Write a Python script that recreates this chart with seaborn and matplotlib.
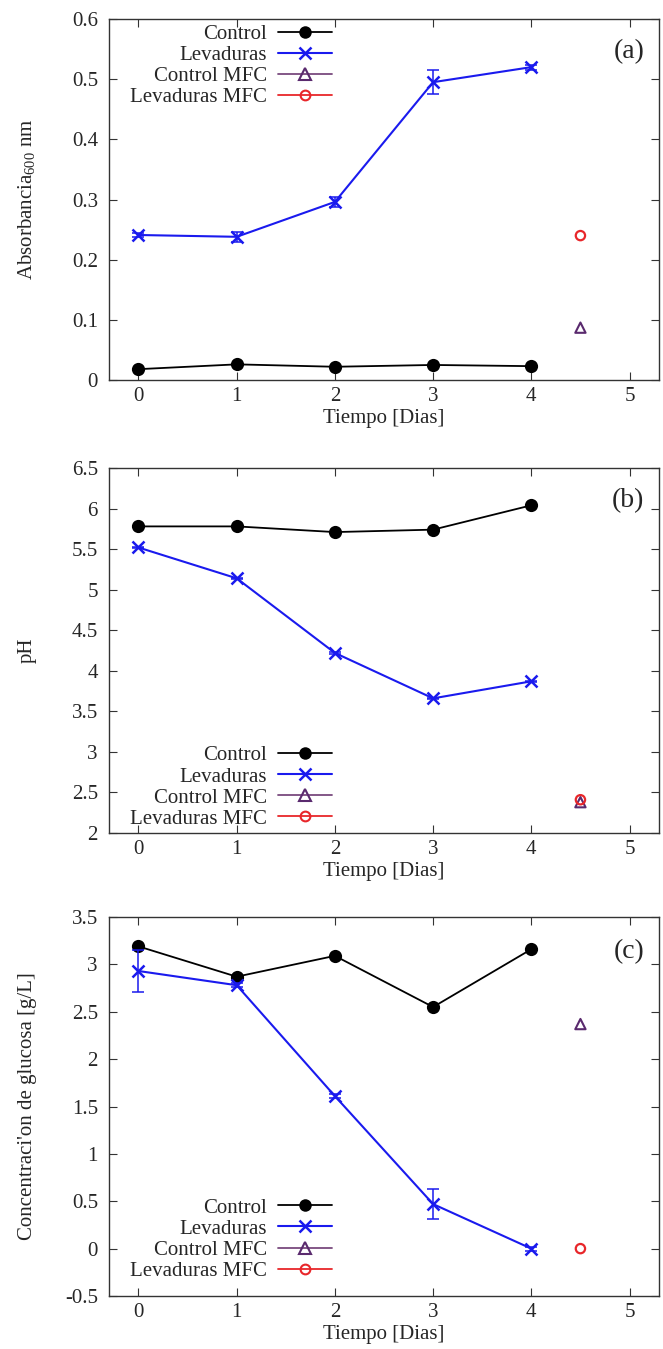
import numpy as np
import pandas as pd
import matplotlib
matplotlib.use("Agg")
import matplotlib.pyplot as plt
import seaborn as sns
from matplotlib.lines import Line2D

# ---------------- data ----------------
days = [0, 1, 2, 3, 4]
mfc_day = [4.5]

abs_control = [0.018, 0.026, 0.022, 0.025, 0.023]
abs_lev = [0.241, 0.238, 0.296, 0.495, 0.520]
abs_lev_err = [0.003, 0.008, 0.008, 0.020, 0.004]
abs_control_mfc = [0.087]
abs_lev_mfc = [0.240]

ph_control = [5.78, 5.78, 5.71, 5.74, 6.04]
ph_lev = [5.52, 5.14, 4.22, 3.66, 3.87]
ph_lev_err = [0.01, 0.01, 0.01, 0.01, 0.01]
ph_control_mfc = [2.38]
ph_lev_mfc = [2.41]

glu_control = [3.19, 2.87, 3.09, 2.55, 3.16]
glu_lev = [2.93, 2.78, 1.61, 0.47, 0.0]
glu_lev_err = [0.22, 0.02, 0.02, 0.16, 0.02]
glu_control_mfc = [2.37]
glu_lev_mfc = [0.0]

series_names = ["Control", "Levaduras", "Control MFC", "Levaduras MFC"]
panel_tags = ["(a)", "(b)", "(c)"]
ylabels = ["Absorbancia$_{600}$ nm", "pH", "Concentraci'on de glucosa [g/L]"]
xlabel = "Tiempo [Dias]"
xticks = [0, 1, 2, 3, 4, 5]
yticks_list = [
    [0, 0.1, 0.2, 0.3, 0.4, 0.5, 0.6],
    [2, 2.5, 3, 3.5, 4, 4.5, 5, 5.5, 6, 6.5],
    [-0.5, 0, 0.5, 1, 1.5, 2, 2.5, 3, 3.5],
]
ytick_labels_list = [
    ["0", "0.1", "0.2", "0.3", "0.4", "0.5", "0.6"],
    ["2", "2.5", "3", "3.5", "4", "4.5", "5", "5.5", "6", "6.5"],
    ["-0.5", "0", "0.5", "1", "1.5", "2", "2.5", "3", "3.5"],
]
ylims = [(0, 0.6), (2, 6.5), (-0.5, 3.5)]

# ---------------- style ----------------
sns.set_theme(style="ticks")
plt.rcParams["font.family"] = ["Liberation Serif", "DejaVu Serif"]
plt.rcParams["mathtext.default"] = "regular"
plt.rcParams["axes.linewidth"] = 1.0
plt.rcParams["axes.edgecolor"] = "#333333"

C_CTRL = "black"
C_LEV = "#1a1aee"
C_CMFC = "#5a2a6e"
C_CMFC_LINE = "#7a4a7e"
C_LMFC = "#e8262a"

W, H = 663, 1349
fig = plt.figure(figsize=(W / 100, H / 100), dpi=100)

boxes = [(19, 380), (468, 833), (917, 1296)]
left_px, right_px = 109, 659
legend_cfg = [
    ("upper right", (0.405, 0.985)),
    ("lower right", (0.405, 0.012)),
    ("lower right", (0.405, 0.04)),
]

data_sets = [
    (abs_control, abs_lev, abs_lev_err, abs_control_mfc, abs_lev_mfc),
    (ph_control, ph_lev, ph_lev_err, ph_control_mfc, ph_lev_mfc),
    (glu_control, glu_lev, glu_lev_err, glu_control_mfc, glu_lev_mfc),
]

FS = 15
for i, (top, bot) in enumerate(boxes):
    ax = fig.add_axes([left_px / W, 1 - bot / H, (right_px - left_px) / W, (bot - top) / H])
    ctrl, lev, lev_err, cmfc, lmfc = data_sets[i]
    df_c = pd.DataFrame({"x": days, "y": ctrl})
    df_l = pd.DataFrame({"x": days, "y": lev})
    sns.lineplot(data=df_c, x="x", y="y", ax=ax, color=C_CTRL, lw=1.3,
                 marker="o", markersize=9.5, markeredgewidth=0, zorder=3)
    ax.errorbar(days, lev, yerr=lev_err, fmt="none", ecolor=C_LEV, elinewidth=1.1,
                capsize=4, capthick=1.1, zorder=3)
    sns.lineplot(data=df_l, x="x", y="y", ax=ax, color=C_LEV, lw=1.5,
                 marker="x", markersize=8.5, markeredgewidth=1.8,
                 markeredgecolor=C_LEV, zorder=4)
    sns.scatterplot(x=mfc_day, y=cmfc, ax=ax, marker="^", s=55, facecolor="none",
                    edgecolor=C_CMFC, linewidth=1.5, zorder=5)
    sns.scatterplot(x=mfc_day, y=lmfc, ax=ax, marker="o", s=45, facecolor="none",
                    edgecolor=C_LMFC, linewidth=1.6, zorder=5)

    ax.set_xlim(-0.3, 5.3)
    ax.set_ylim(*ylims[i])
    ax.set_xticks(xticks)
    ax.set_xticklabels([str(t) for t in xticks])
    ax.set_yticks(yticks_list[i])
    ax.set_yticklabels(ytick_labels_list[i])
    ax.tick_params(direction="in", length=6, width=0.8, color="#333333",
                   top=True, right=True, labelsize=FS)
    ax.tick_params(axis="x", pad=5)
    ax.tick_params(axis="y", pad=8)
    ax.set_xlabel(xlabel, fontsize=FS, labelpad=2)
    ax.set_ylabel(ylabels[i], fontsize=FS)
    ax.yaxis.set_label_coords(-0.131, 0.5)
    for s in ax.spines.values():
        s.set_visible(True)
    ax.text(0.973, 0.91, panel_tags[i], transform=ax.transAxes, ha="right",
            va="center", fontsize=20)

    handles = [
        Line2D([], [], color=C_CTRL, lw=1.3, marker="o", markersize=9, markeredgewidth=0),
        Line2D([], [], color=C_LEV, lw=1.5, marker="x", markersize=8, markeredgewidth=1.8),
        Line2D([], [], color=C_CMFC_LINE, lw=1.3, marker="^", markersize=8,
               markerfacecolor="none", markeredgecolor=C_CMFC, markeredgewidth=1.5),
        Line2D([], [], color=C_LMFC, lw=1.3, marker="o", markersize=7,
               markerfacecolor="none", markeredgecolor=C_LMFC, markeredgewidth=1.5),
    ]
    loc, anchor = legend_cfg[i]
    ax.legend(handles, series_names, loc=loc, bbox_to_anchor=anchor,
              markerfirst=False, frameon=False, fontsize=FS, handlelength=2.6,
              handletextpad=0.5, labelspacing=0.07, borderaxespad=0.0,
              borderpad=0.0)

fig.savefig("out.png", dpi=100)
